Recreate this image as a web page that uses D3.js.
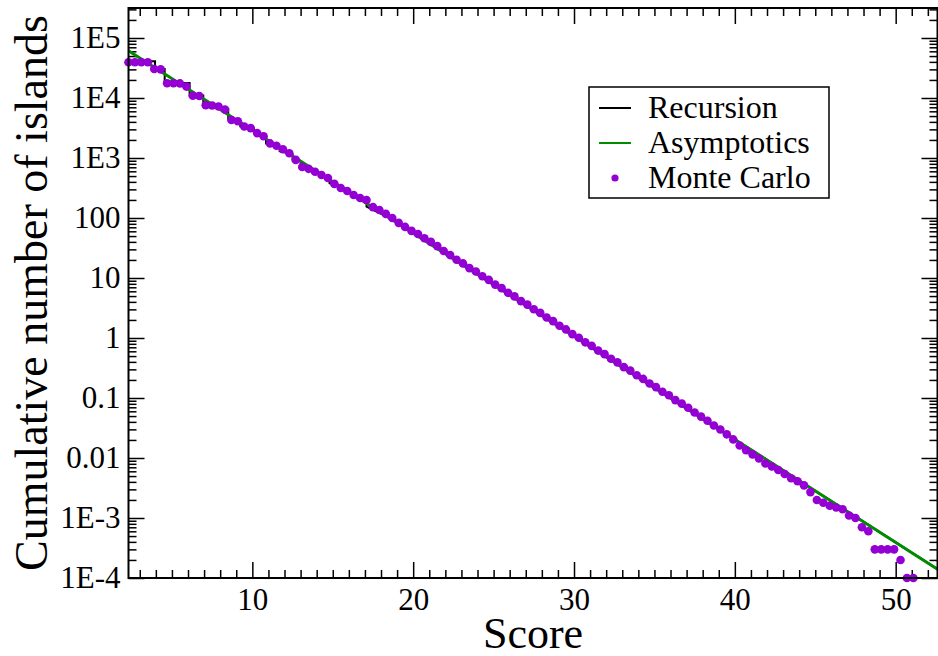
<!DOCTYPE html>
<html>
<head>
<meta charset="utf-8">
<script src="https://cdn.jsdelivr.net/npm/d3@7/dist/d3.min.js"></script>
<style>
body { margin: 0; background: #fff; }
text { font-family: "Liberation Serif", "Times New Roman", serif; fill: #000; }
</style>
</head>
<body>
<div id="chart"></div>
<script>
// Monte Carlo points (score, cumulative number)
var scores = [2.3, 2.7, 3.1, 3.5, 3.9, 4.3, 4.7, 5.1, 5.5, 5.9,
	6.3, 6.7, 7.1, 7.5, 7.9, 8.3, 8.7, 9.1, 9.5, 9.9,
	10.3, 10.7, 11.1, 11.5, 11.9, 12.3, 12.7, 13.1, 13.5, 13.9,
	14.3, 14.7, 15.1, 15.5, 15.9, 16.3, 16.7, 17.1, 17.5, 17.9,
	18.3, 18.7, 19.1, 19.5, 19.9, 20.3, 20.7, 21.1, 21.5, 21.9,
	22.3, 22.7, 23.1, 23.5, 23.9, 24.3, 24.7, 25.1, 25.5, 25.9,
	26.3, 26.7, 27.1, 27.5, 27.9, 28.3, 28.7, 29.1, 29.5, 29.9,
	30.3, 30.7, 31.1, 31.5, 31.9, 32.3, 32.7, 33.1, 33.5, 33.9,
	34.3, 34.7, 35.1, 35.5, 35.9, 36.3, 36.7, 37.1, 37.5, 37.9,
	38.3, 38.7, 39.1, 39.5, 39.9, 40.3, 40.7, 41.1, 41.5, 41.9,
	42.3, 42.7, 43.1, 43.5, 43.9, 44.3, 44.7, 45.1, 45.5, 45.9,
	46.3, 46.7, 47.1, 47.5, 47.9, 48.3, 48.7, 49.1, 49.5, 49.9,
	50.3, 50.7, 51.1];
var monteCarlo = [3.95e4, 3.95e4, 3.95e4, 3.95e4, 3.05e4, 3.0e4, 1.76e4, 1.76e4, 1.75e4, 1.55e4,
	1.09e4, 1.08e4, 7.6e3, 7.5e3, 7.2e3, 6.4e3, 4.3e3, 4.1e3, 3.35e3, 3.15e3,
	2.6e3, 2.3e3, 1.75e3, 1.6e3, 1.4e3, 1.2e3, 930, 710, 660, 590,
	520, 465, 370, 316, 282, 242, 215, 200, 152, 136,
	117, 100, 83, 71, 61, 54, 46, 40, 34, 28.2,
	24.1, 20.1, 17.5, 14.6, 12.8, 10.7, 9.31, 7.76, 6.78, 5.66,
	4.94, 4.12, 3.60, 3.01, 2.62, 2.19, 1.91, 1.60, 1.39, 1.16,
	1.01, 0.847, 0.740, 0.617, 0.538, 0.450, 0.393, 0.327, 0.286, 0.239,
	0.208, 0.174, 0.152, 0.127, 0.111, 0.0923, 0.0805, 0.0689, 0.0574, 0.0490,
	0.0418, 0.0349, 0.0298, 0.0248, 0.0204, 0.0162, 0.0135, 0.0115, 0.0098, 0.0081,
	0.0072, 0.0063, 0.0054, 0.0046, 0.0041, 0.0035, 0.0027, 0.0020, 0.0018, 0.0016,
	0.0015, 0.0014, 0.0011, 0.0010, 0.0007, 0.0006, 0.0003, 0.0003, 0.0003, 0.0003,
	0.0002, 0.0001, 0.0001];

// Recursion (staircase at low scores)
var recScores = [2.3, 3.95, 3.95, 4.55, 4.55, 6.1, 6.1, 6.95, 6.95, 8.5,
	8.5, 9.25, 9.25, 10.1, 10.1, 10.85, 10.85, 11.7, 11.7, 12.5,
	12.5, 13.0, 13.0, 14.8, 14.8, 15.3, 17.1, 17.1, 19.3, 19.3,
	21.5, 30, 40, 52.6];
var recCounts = [4.1e4, 4.1e4, 3.05e4, 3.05e4, 1.78e4, 1.78e4, 1.1e4, 1.1e4, 7.6e3, 6.6e3,
	4.4e3, 4.2e3, 3.35e3, 3.1e3, 2.6e3, 2.3e3, 1.75e3, 1.5e3, 1.3e3, 1.15e3,
	940, 880, 710, 460, 380, 340, 195, 155, 79, 72,
	34, 1.07, 0.0205, 1.4e-4];

// Asymptotics
var asyScores = [2.3, 15, 27.5, 40, 52.6];
var asyCounts = [6.1e4, 403, 2.87, 0.0204, 1.4e-4];

var xTickValues = [10, 20, 30, 40, 50];
var yTickValues = [1e-4, 1e-3, 1e-2, 1e-1, 1, 10, 100, 1e3, 1e4, 1e5];
var yTickLabels = ["1E-4", "1E-3", "0.01", "0.1", "1", "10", "100", "1E3", "1E4", "1E5"];

var legendNames = ["Recursion", "Asymptotics", "Monte Carlo"];
var purple = "#9400d3", green = "#008b00";

var W = 938, H = 656;
var pLeft = 128.5, pRight = 937.5, pTop = 8, pBottom = 578;

var svg = d3.select("#chart").append("svg")
	.attr("width", W)
	.attr("height", H);

var x = d3.scaleLinear().domain([2.3, 52.6]).range([pLeft, pRight]);
var y = d3.scaleLog().domain([1e-4, Math.pow(10, 5.5)]).range([pBottom, pTop]);

svg.append("clipPath").attr("id", "plot")
	.append("rect")
	.attr("x", pLeft).attr("y", pTop)
	.attr("width", pRight - pLeft).attr("height", pBottom - pTop);

// minor tick positions
var xMinor = d3.range(3, 53).filter(function(d){ return d % 10 != 0; });
var yMinor = y.ticks().filter(function(d){
	return yTickValues.indexOf(d) < 0;
});

function clean(g){
	g.select(".domain").remove();
	g.selectAll(".tick line").attr("stroke", "#000").attr("stroke-width", 1.5);
}

// bottom
svg.append("g").attr("transform", "translate(0," + pBottom + ")")
	.call(d3.axisBottom(x).tickValues(xMinor).tickSize(-8).tickFormat(""))
	.call(clean);
svg.append("g").attr("transform", "translate(0," + pBottom + ")")
	.call(d3.axisBottom(x).tickValues(xTickValues).tickSize(-16).tickPadding(10).tickFormat(d3.format("d")))
	.call(clean)
	.selectAll("text").style("font-size", "31px").attr("font-family", null);
// top
svg.append("g").attr("transform", "translate(0," + pTop + ")")
	.call(d3.axisTop(x).tickValues(xMinor).tickSize(-8).tickFormat(""))
	.call(clean);
svg.append("g").attr("transform", "translate(0," + pTop + ")")
	.call(d3.axisTop(x).tickValues(xTickValues).tickSize(-16).tickFormat(""))
	.call(clean);
// left
svg.append("g").attr("transform", "translate(" + pLeft + ",0)")
	.call(d3.axisLeft(y).tickValues(yMinor).tickSize(-8).tickFormat(""))
	.call(clean);
svg.append("g").attr("transform", "translate(" + pLeft + ",0)")
	.call(d3.axisLeft(y).tickValues(yTickValues).tickSize(-16).tickPadding(8)
		.tickFormat(function(d, i){ return yTickLabels[i]; }))
	.call(clean)
	.selectAll("text").style("font-size", "31px").attr("font-family", null);
// right
svg.append("g").attr("transform", "translate(" + pRight + ",0)")
	.call(d3.axisRight(y).tickValues(yMinor).tickSize(-8).tickFormat(""))
	.call(clean);
svg.append("g").attr("transform", "translate(" + pRight + ",0)")
	.call(d3.axisRight(y).tickValues(yTickValues).tickSize(-16).tickFormat(""))
	.call(clean);

// lines
var recData = recScores.map(function(d, i){ return [d, recCounts[i]]; });
var asyData = asyScores.map(function(d, i){ return [d, asyCounts[i]]; });
var line = d3.line()
	.x(function(d){ return x(d[0]); })
	.y(function(d){ return y(d[1]); });

svg.append("path").datum(recData)
	.attr("clip-path", "url(#plot)")
	.attr("d", line)
	.attr("fill", "none")
	.attr("stroke", "#000")
	.attr("stroke-width", 2);

svg.append("path").datum(asyData)
	.attr("clip-path", "url(#plot)")
	.attr("d", line)
	.attr("fill", "none")
	.attr("stroke", green)
	.attr("stroke-width", 3);

// Monte Carlo dots
svg.selectAll("circle.mc")
	.data(scores)
	.enter()
	.append("circle")
	.attr("class", "mc")
	.attr("cx", function(d){ return x(d); })
	.attr("cy", function(d, i){ return y(monteCarlo[i]); })
	.attr("r", 4.3)
	.attr("fill", purple);

// frame
svg.append("rect")
	.attr("x", pLeft).attr("y", pTop)
	.attr("width", pRight - pLeft).attr("height", pBottom - pTop)
	.attr("fill", "none")
	.attr("stroke", "#000")
	.attr("stroke-width", 2);

// axis titles
svg.append("text")
	.attr("x", (pLeft + pRight) / 2)
	.attr("y", 648)
	.attr("text-anchor", "middle")
	.style("font-size", "44px")
	.text("Score");

svg.append("text")
	.attr("transform", "translate(47," + ((pTop + pBottom) / 2) + ") rotate(-90)")
	.attr("text-anchor", "middle")
	.style("font-size", "46px")
	.text("Cumulative number of islands");

// legend
var leg = svg.append("g");
leg.append("rect")
	.attr("x", 589).attr("y", 87)
	.attr("width", 240).attr("height", 111)
	.attr("fill", "#fff")
	.attr("stroke", "#000")
	.attr("stroke-width", 1.5);
leg.append("line").attr("x1", 599).attr("x2", 631).attr("y1", 108).attr("y2", 108)
	.attr("stroke", "#000").attr("stroke-width", 2);
leg.append("line").attr("x1", 599).attr("x2", 631).attr("y1", 143).attr("y2", 143)
	.attr("stroke", green).attr("stroke-width", 2);
leg.append("circle").attr("cx", 615).attr("cy", 178).attr("r", 3.6).attr("fill", purple);
leg.selectAll("text.leg")
	.data(legendNames)
	.enter()
	.append("text")
	.attr("class", "leg")
	.attr("x", 648)
	.attr("y", function(d, i){ return 118 + i * 35; })
	.style("font-size", "32px")
	.text(function(d){ return d; });
</script>
</body>
</html>
